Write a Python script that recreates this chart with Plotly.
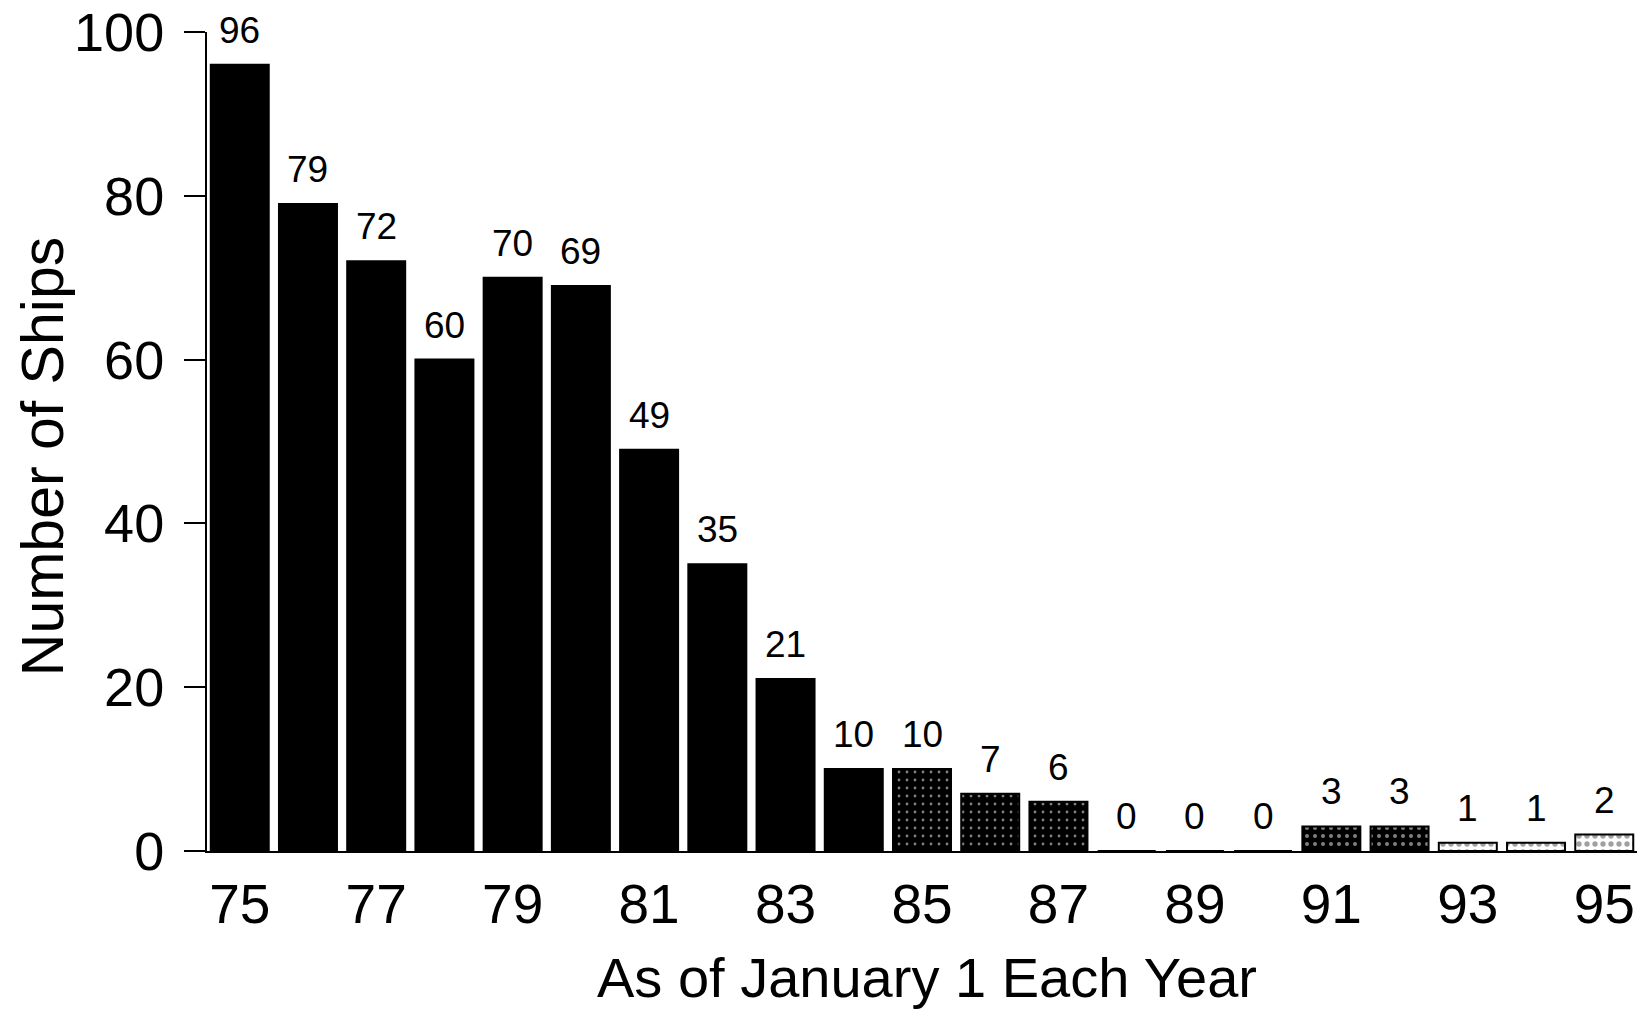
import plotly.graph_objects as go

years = list(range(75, 96))
ships = [96, 79, 72, 60, 70, 69, 49, 35, 21, 10, 10, 7, 6, 0, 0, 0, 3, 3, 1, 1, 2]
tick_years = [75, 77, 79, 81, 83, 85, 87, 89, 91, 93, 95]
tick_labels = [str(y) for y in tick_years]
y_ticks = [0, 20, 40, 60, 80, 100]
x_title = "As of January 1 Each Year"
y_title = "Number of Ships"

FONT = "Liberation Sans, Arial, Helvetica, sans-serif"

# styling per bar (scanned look): solid black early, stippled later, light at the end
bar_colors, fg_colors, shapes, solid = [], [], [], []
for y in years:
    if y <= 84:
        bar_colors.append("#000000"); fg_colors.append("#000000"); shapes.append(""); solid.append(0.1)
    elif y <= 92:
        bar_colors.append("#000000"); fg_colors.append("#ffffff"); shapes.append("."); solid.append(0.1 if y <= 87 else 0.2)
    else:
        bar_colors.append("#ffffff"); fg_colors.append("#000000"); shapes.append("."); solid.append(0.35)

fig = go.Figure()
fig.add_trace(go.Bar(
    x=years, y=ships, width=0.85,
    marker=dict(
        color=bar_colors,
        line=dict(color="#000000", width=2),
        pattern=dict(shape=shapes, fgcolor=fg_colors, fillmode="overlay",
                     size=8, solidity=solid),
    ),
    hoverinfo="skip",
))

for x, v in zip(years, ships):
    fig.add_annotation(
        x=x, y=v, xref="x", yref="y", text=str(v), showarrow=False,
        yanchor="bottom", yshift=12,
        font=dict(family=FONT, size=37, color="#000000"),
    )

fig.add_annotation(
    xref="paper", yref="paper", x=-0.1147, y=0.482, text=y_title, textangle=-90,
    showarrow=False, xanchor="center", yanchor="middle",
    font=dict(family=FONT, size=59, color="#000000"),
)
fig.add_annotation(
    xref="paper", yref="paper", x=0.5035, y=-0.1948, text=x_title,
    showarrow=False, xanchor="center", yanchor="bottom",
    font=dict(family=FONT, size=56, color="#000000"),
)

fig.update_layout(
    width=1640, height=1011,
    margin=dict(l=207, r=3, t=32, b=160),
    paper_bgcolor="#ffffff", plot_bgcolor="#ffffff",
    showlegend=False,
    xaxis=dict(
        range=[74.52, 95.48], tickvals=tick_years, ticktext=tick_labels,
        showgrid=False, zeroline=False, showline=True, linecolor="#000000", linewidth=2,
        ticks="", ticklabelstandoff=4,
        tickfont=dict(family=FONT, size=55, color="#000000"),
    ),
    yaxis=dict(
        range=[0, 100], tickvals=y_ticks,
        showgrid=False, zeroline=False, showline=True, linecolor="#000000", linewidth=2,
        ticks="outside", ticklen=21, tickwidth=2, tickcolor="#000000",
        ticklabelstandoff=9,
        tickfont=dict(family=FONT, size=54, color="#000000"),
    ),
)

fig.write_html("out.html", config={"displayModeBar": False},
               post_script="document.body.style.margin='0px';")
